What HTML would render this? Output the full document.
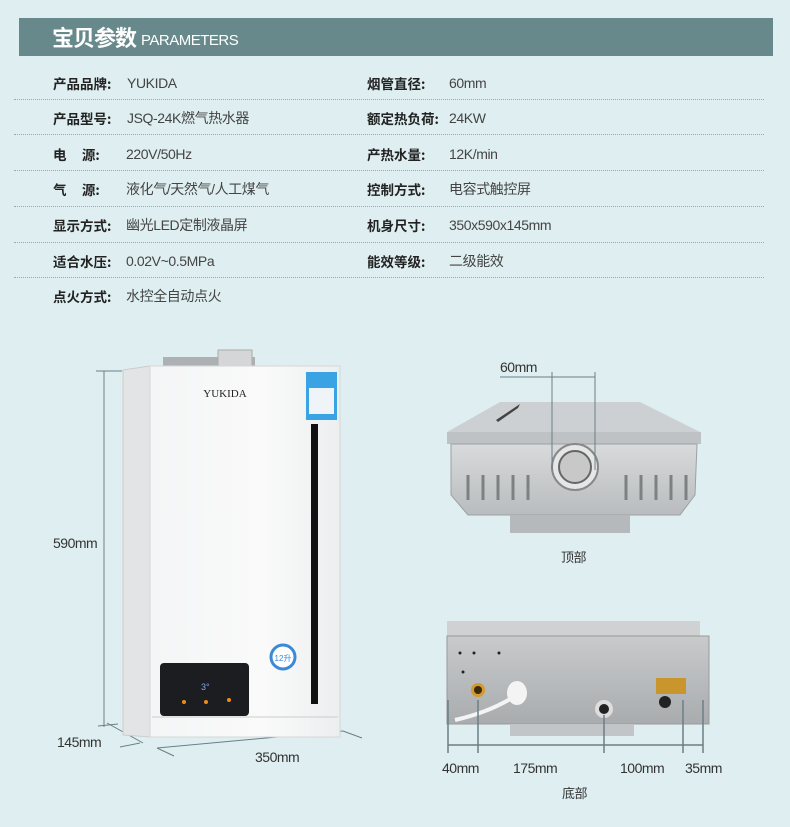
<!DOCTYPE html>
<html><head><meta charset="utf-8"><style>
*{margin:0;padding:0}
body{width:790px;height:827px;background:#dfeff1;position:relative;overflow:hidden;font-family:"Liberation Sans","Noto Sans CJK SC",sans-serif;color:#333}
.hd{position:absolute;left:19px;top:18px;width:754px;height:38px;background:#68898b;color:#fff}
.hd b{position:absolute;left:33px;top:6px;font-size:22px;font-family:"Noto Sans CJK SC",sans-serif;font-weight:bold;letter-spacing:-1px;line-height:26px}
.hd span{position:absolute;left:122px;top:14px;font-size:15px;letter-spacing:-0.5px}
.t{position:absolute;font-size:14px;line-height:16px;white-space:nowrap}
.l{font-weight:bold;color:#222;font-family:"Noto Sans CJK SC",sans-serif;font-size:13.5px}
.v{color:#444;letter-spacing:-0.4px}
.d{position:absolute;left:14px;width:750px;border-top:1px dotted #9aa;height:0}
.s{position:absolute;font-size:14px;color:#333;letter-spacing:-0.5px;white-space:nowrap}
</style></head><body>
<div class="hd"><b>宝贝参数</b><span>PARAMETERS</span></div>

<div class="t l" style="left:53px;top:75px">产品品牌:</div><div class="t v" style="left:127px;top:75px">YUKIDA</div>
<div class="t l" style="left:367px;top:75px">烟管直径:</div><div class="t v" style="left:449px;top:75px">60mm</div>
<div class="d" style="top:99px"></div>
<div class="t l" style="left:53px;top:110px">产品型号:</div><div class="t v" style="left:127px;top:110px">JSQ-24K燃气热水器</div>
<div class="t l" style="left:367px;top:110px">额定热负荷:</div><div class="t v" style="left:449px;top:110px">24KW</div>
<div class="d" style="top:134px"></div>
<div class="t l" style="left:53px;top:146px">电&nbsp;&nbsp;&nbsp;&nbsp;&nbsp;源:</div><div class="t v" style="left:126px;top:146px">220V/50Hz</div>
<div class="t l" style="left:367px;top:146px">产热水量:</div><div class="t v" style="left:449px;top:146px">12K/min</div>
<div class="d" style="top:170px"></div>
<div class="t l" style="left:53px;top:181px">气&nbsp;&nbsp;&nbsp;&nbsp;&nbsp;源:</div><div class="t v" style="left:126px;top:181px">液化气/天然气/人工煤气</div>
<div class="t l" style="left:367px;top:181px">控制方式:</div><div class="t v" style="left:449px;top:181px">电容式触控屏</div>
<div class="d" style="top:206px"></div>
<div class="t l" style="left:53px;top:217px">显示方式:</div><div class="t v" style="left:126px;top:217px">幽光LED定制液晶屏</div>
<div class="t l" style="left:367px;top:217px">机身尺寸:</div><div class="t v" style="left:449px;top:217px">350x590x145mm</div>
<div class="d" style="top:242px"></div>
<div class="t l" style="left:53px;top:253px">适合水压:</div><div class="t v" style="left:126px;top:253px">0.02V~0.5MPa</div>
<div class="t l" style="left:367px;top:253px">能效等级:</div><div class="t v" style="left:449px;top:253px">二级能效</div>
<div class="d" style="top:277px"></div>
<div class="t l" style="left:53px;top:288px">点火方式:</div><div class="t v" style="left:126px;top:288px">水控全自动点火</div>

<svg style="position:absolute;left:0;top:0" width="790" height="827">
<defs>
<linearGradient id="fr" x1="0" x2="1"><stop offset="0" stop-color="#f4f5f6"/><stop offset="0.6" stop-color="#fafafa"/><stop offset="1" stop-color="#eceeef"/></linearGradient>
<linearGradient id="mt" x1="0" y1="0" x2="0" y2="1"><stop offset="0" stop-color="#d8dadb"/><stop offset="1" stop-color="#b9bcbe"/></linearGradient>
<linearGradient id="bt" x1="0" y1="0" x2="0" y2="1"><stop offset="0" stop-color="#c8cacc"/><stop offset="1" stop-color="#a9acae"/></linearGradient>
</defs>
<g stroke="#6b7f86" stroke-width="1" fill="none">
<line x1="104" y1="371" x2="104" y2="727"/><line x1="96" y1="371" x2="122" y2="371"/><line x1="98" y1="726" x2="118" y2="724"/>
<line x1="107" y1="723" x2="143" y2="743"/><line x1="120" y1="747" x2="140" y2="743"/>
<line x1="157" y1="748" x2="343" y2="731"/><line x1="157" y1="748" x2="174" y2="756"/><line x1="343" y1="731" x2="362" y2="738"/>
</g>
<!-- heater -->
<rect x="163" y="357" width="92" height="11" fill="#aeb1b3"/>
<rect x="218" y="350" width="34" height="18" fill="#d4d6d7" stroke="#aaa"/>
<polygon points="123,370 150,366 150,737 123,735" fill="#e2e4e5" stroke="#ccc"/>
<rect x="150" y="366" width="190" height="371" fill="url(#fr)" stroke="#d5d7d8"/>
<line x1="152" y1="717" x2="338" y2="717" stroke="#ccc"/>
<rect x="306" y="372" width="31" height="48" fill="#3aa3e3"/><rect x="309" y="388" width="25" height="26" fill="#eef4f7"/>
<rect x="311" y="424" width="7" height="280" fill="#111"/>
<text x="225" y="397" font-family="Liberation Serif,serif" font-size="11" text-anchor="middle" fill="#222">YUKIDA</text>
<circle cx="283" cy="657" r="12" fill="#fff" stroke="#3a8ad8" stroke-width="3"/><text x="283" y="661" font-size="8" fill="#3a8ad8" text-anchor="middle">12升</text>
<rect x="160" y="663" width="89" height="53" rx="4" fill="#1c1d20"/>
<text x="201" y="690" font-size="9" fill="#7fa6e8" font-family="Liberation Sans">3°</text>
<circle cx="184" cy="702" r="2" fill="#f08a1a"/><circle cx="206" cy="702" r="2" fill="#f08a1a"/><circle cx="229" cy="700" r="2" fill="#f08a1a"/>
<!-- top view -->
<polygon points="500,402 640,402 700,432 447,432" fill="#cdd0d2"/>
<polygon points="496,420 520,404 518,408 498,422" fill="#444"/>
<rect x="447" y="432" width="254" height="12" fill="#bfc2c4"/>
<polygon points="451,444 697,444 695,495 680,515 468,515 451,495" fill="url(#mt)" stroke="#9da0a3"/>
<g stroke="#7d8184" stroke-width="3">
<line x1="468" y1="475" x2="468" y2="500"/><line x1="483" y1="475" x2="483" y2="500"/><line x1="498" y1="475" x2="498" y2="500"/><line x1="513" y1="475" x2="513" y2="500"/><line x1="528" y1="475" x2="528" y2="500"/>
<line x1="626" y1="475" x2="626" y2="500"/><line x1="641" y1="475" x2="641" y2="500"/><line x1="656" y1="475" x2="656" y2="500"/><line x1="671" y1="475" x2="671" y2="500"/><line x1="686" y1="475" x2="686" y2="500"/>
</g>
<rect x="510" y="515" width="120" height="18" fill="#b6b9bb"/>
<circle cx="575" cy="467" r="23" fill="#e5e6e7" stroke="#888" stroke-width="2"/><circle cx="575" cy="467" r="16" fill="#c8c8c8" stroke="#666" stroke-width="2"/>
<g stroke="#6b7f86" fill="none"><line x1="500" y1="377" x2="595" y2="377"/><line x1="552" y1="372" x2="552" y2="470"/><line x1="595" y1="372" x2="595" y2="470"/></g>
<!-- bottom view -->
<rect x="447" y="621" width="253" height="15" fill="#cfd1d3"/>
<rect x="447" y="636" width="262" height="88" fill="url(#bt)" stroke="#999"/>
<rect x="510" y="724" width="124" height="12" fill="#c2c5c7"/>
<circle cx="478" cy="690" r="7" fill="#d49a2a"/><circle cx="478" cy="690" r="4" fill="#3a2a10"/>
<ellipse cx="517" cy="693" rx="10" ry="12" fill="#f4f4f4"/>
<path d="M455 720 Q490 712 515 696" stroke="#f4f4f4" stroke-width="4" fill="none"/>
<circle cx="604" cy="709" r="9" fill="#ddd"/><circle cx="604" cy="709" r="5" fill="#222"/>
<rect x="656" y="678" width="30" height="16" fill="#c9962e"/><circle cx="665" cy="702" r="6" fill="#222"/>
<g fill="#222"><circle cx="460" cy="653" r="1.5"/><circle cx="474" cy="653" r="1.5"/><circle cx="499" cy="653" r="1.5"/><circle cx="463" cy="672" r="1.5"/></g>
<g stroke="#6b7f86" stroke-width="1.5" fill="none">
<line x1="448" y1="745" x2="703" y2="745"/>
<line x1="448" y1="700" x2="448" y2="753"/><line x1="478" y1="700" x2="478" y2="753"/><line x1="604" y1="715" x2="604" y2="753"/><line x1="683" y1="700" x2="683" y2="753"/><line x1="703" y1="700" x2="703" y2="753"/>
</g>
</svg>
<div class="s" style="left:53px;top:535px">590mm</div>
<div class="s" style="left:57px;top:734px">145mm</div>
<div class="s" style="left:255px;top:749px">350mm</div>
<div class="s" style="left:500px;top:359px">60mm</div>
<div class="s" style="left:561px;top:547px;font-size:13px">顶部</div>
<div class="s" style="left:442px;top:760px">40mm</div>
<div class="s" style="left:513px;top:760px">175mm</div>
<div class="s" style="left:620px;top:760px">100mm</div>
<div class="s" style="left:685px;top:760px">35mm</div>
<div class="s" style="left:562px;top:783px;font-size:13px">底部</div>
</body></html>
